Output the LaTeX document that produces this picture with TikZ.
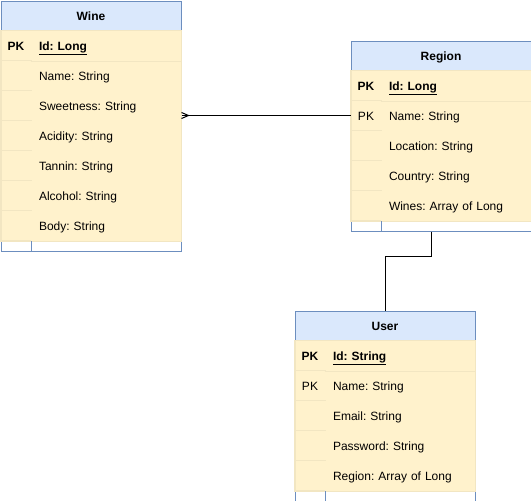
\documentclass[tikz,border=0pt]{standalone}
\usepackage{fontspec}
\setmainfont{Liberation Sans}
\frenchspacing
\definecolor{headblue}{HTML}{DAE8FC}
\definecolor{lineblue}{HTML}{6C8EBF}
\definecolor{rowyellow}{HTML}{FFF2CC}
\definecolor{rowline}{HTML}{F2E6C2}
\newcommand{\cellfont}{\fontsize{12pt}{14pt}\selectfont}
\tikzset{
  tablebox/.style={draw=lineblue,fill=white,minimum width=180pt,anchor=north west,inner sep=0pt},
  header/.style={draw=lineblue,fill=headblue,minimum width=180pt,minimum height=30pt,anchor=north west,
    text height=10pt,text depth=1pt,font=\cellfont\bfseries},
  keycell/.style={draw=rowline,fill=rowyellow,minimum width=30pt,minimum height=30pt,anchor=north west,inner sep=0pt,
    text height=10pt,text depth=1pt,font=\cellfont},
  fieldcell/.style={fill=rowyellow,minimum height=30pt,text width=134pt,inner xsep=8pt,align=left,anchor=north west,
    text height=10pt,text depth=1pt,font=\cellfont},
  rel/.style={draw=black,line width=1pt}
}
\begin{document}
\begin{tikzpicture}[x=1pt,y=-1pt,line width=1pt]
  \useasboundingbox (0,0) rectangle (531,501);

  % Wine
  \node[tablebox,minimum height=250pt] (wine) at (0.5,0.5) {};
  \node[header] (wine-head) at (0.5,0.5) {Wine};
  \node[keycell,font=\cellfont\bfseries] (wine-key-0) at (0.5,30) {PK};
  \node[fieldcell,font=\cellfont\bfseries] (wine-0) at (30.5,30) {\underline{Id: Long}};
  \foreach \n/\t in
  {1/Name: String,2/Sweetness: String,3/Acidity: String,4/Tannin: String,5/Alcohol: String,6/Body: String}
  {\node[keycell] (wine-key-\n) at (0.5,{30+30*\n}) {};
   \node[fieldcell] (wine-\n) at (30.5,{30+30*\n}) {\t};}
  \draw[rowline] (wine-key-0.north west) rectangle (wine-6.south east);
  \draw[rowline] (wine-0.south west) -- (wine-0.south east);
  \draw[lineblue] (wine-key-6.south east) -- (wine-key-6.south east |- wine.south);

  % Region
  \node[tablebox,minimum height=190pt] (region) at (350.5,40.5) {};
  \node[header] (region-head) at (350.5,40.5) {Region};
  \node[keycell,font=\cellfont\bfseries] (region-key-0) at (350.5,70) {PK};
  \node[fieldcell,font=\cellfont\bfseries] (region-0) at (380.5,70) {\underline{Id: Long}};
  \foreach \n/\k/\t in
  {1/PK/Name: String,2//Location: String,3//Country: String,4//Wines: Array of Long}
  {\node[keycell] (region-key-\n) at (350.5,{70+30*\n}) {\k};
   \node[fieldcell] (region-\n) at (380.5,{70+30*\n}) {\t};}
  \draw[rowline] (region-key-0.north west) rectangle (region-4.south east);
  \draw[rowline] (region-0.south west) -- (region-0.south east);
  \draw[lineblue] (region-key-4.south east) -- (region-key-4.south east |- region.south);

  % User
  \node[tablebox,minimum height=190pt] (user) at (294.5,310.5) {};
  \node[header] (user-head) at (294.5,310.5) {User};
  \node[keycell,font=\cellfont\bfseries] (user-key-0) at (294.5,340) {PK};
  \node[fieldcell,font=\cellfont\bfseries] (user-0) at (324.5,340) {\underline{Id: String}};
  \foreach \n/\k/\t in
  {1/PK/Name: String,2//Email: String,3//Password: String,4//Region: Array of Long}
  {\node[keycell] (user-key-\n) at (294.5,{340+30*\n}) {\k};
   \node[fieldcell] (user-\n) at (324.5,{340+30*\n}) {\t};}
  \draw[rowline] (user-key-0.north west) rectangle (user-4.south east);
  \draw[rowline] (user-0.south west) -- (user-0.south east);
  \draw[lineblue] (user-key-4.south east) -- (user-key-4.south east |- user.south);

  % relations
  \coordinate (wine-end) at (region-1.west -| wine.east);
  \draw[rel] (region-1.west -| region.west) -- (wine-end);
  \draw[rel] ([yshift=3pt]wine-end) -- ([xshift=7pt]wine-end) -- ([yshift=-3pt]wine-end);
  \draw[rel] ([xshift=-9.5pt]region.south) -- ++(0,25) -| (user.north);
\end{tikzpicture}
\end{document}
